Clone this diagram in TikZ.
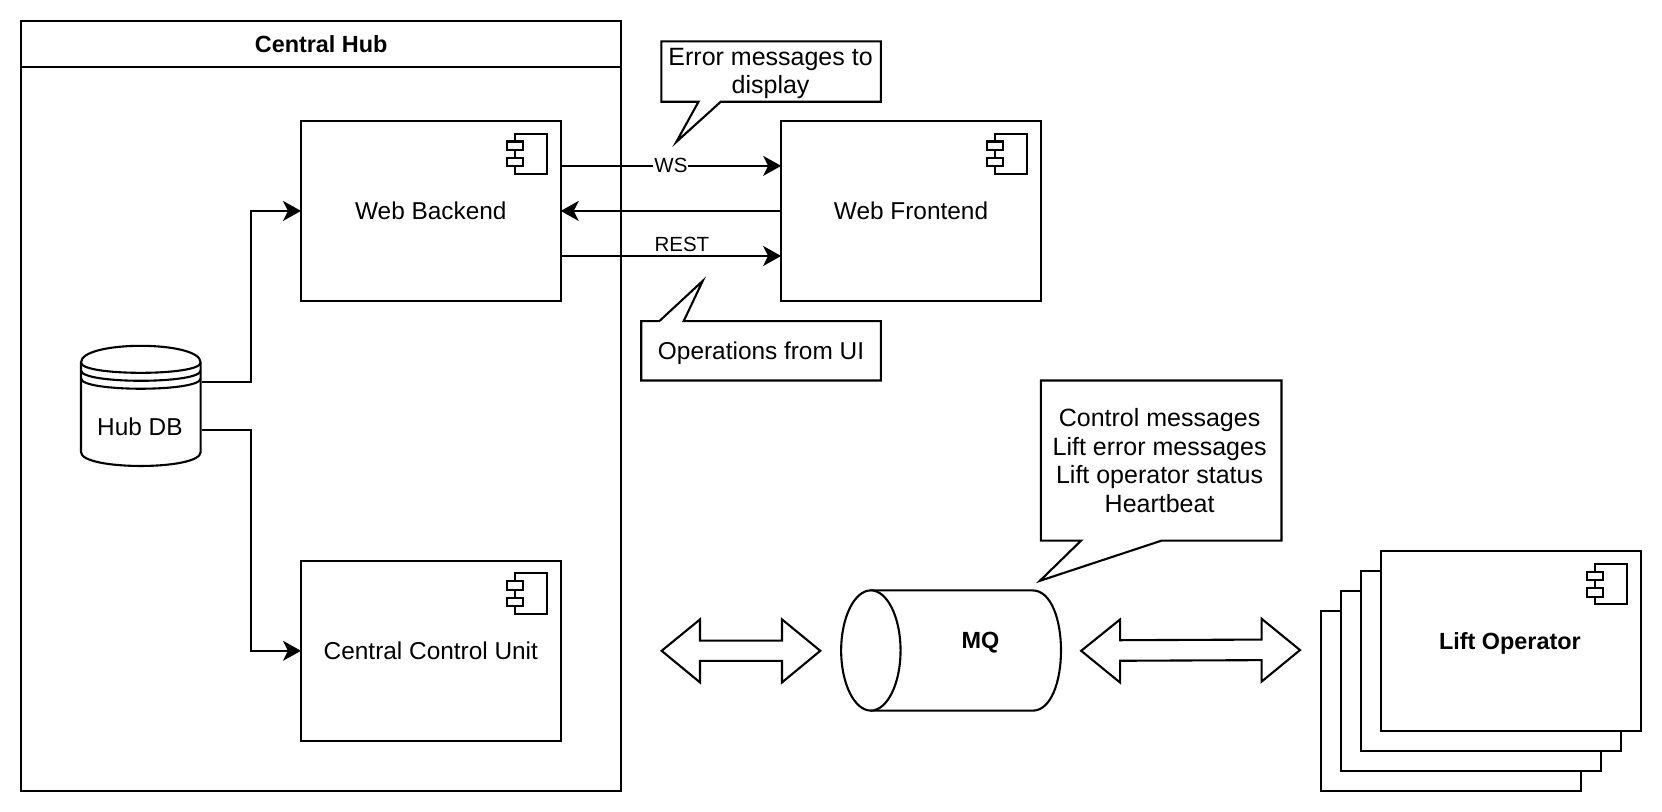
\documentclass[tikz,border=0pt]{standalone}
\usepackage{fontspec}
\setmainfont{Liberation Sans}
\usetikzlibrary{arrows.meta,calc}
\tikzset{
  every path/.append style={line width=2.1pt, line join=miter},
  txt/.style={font=\fontsize{24.4}{28.6}\selectfont, align=center, inner sep=0pt},
  widetxt/.style={font=\fontsize{25}{28.6}\selectfont, align=center, inner sep=0pt},
  boldtxt/.style={font=\fontsize{23.4}{28}\selectfont\bfseries, align=center, inner sep=0pt},
  lbl/.style={font=\fontsize{20.5}{24}\selectfont, fill=white},
  comp/.style={draw, fill=white, minimum width=259.7pt, minimum height=180.2pt, inner sep=0pt,
               font=\fontsize{24.4}{28.6}\selectfont},
  linkarrow/.style={-{Stealth[length=18pt,width=20pt,inset=5pt]}, shorten >=-1pt},
  shapeline/.style={draw, fill=white},
  compicon/.pic={
    \draw[fill=white] (-44,13) rectangle (-14,51);
    \draw[fill=white] (-52,20.5) rectangle (-37,28.5);
    \draw[fill=white] (-52,36) rectangle (-37,44);
  }
}
\begin{document}
\begin{tikzpicture}[x=1.06pt,y=-1.06pt]
\useasboundingbox (0,0) rectangle (1568,766);
\fill[white] (0,0) rectangle (1568,766);

% Central Hub
\node[draw, fill=white, minimum width=600pt, minimum height=769.6pt, inner sep=0pt] (hub) at (303,383) {};
\node[draw, boldtxt, minimum width=600pt, minimum height=45.6pt] (hubtitle) at (303,41.5) {\raisebox{-1pt}{Central Hub}};

% Components
\node[comp] (backend) at (406.5,199) {Web Backend};
\pic at (backend.north east) {compicon};
\node[comp] (frontend) at (859.5,199) {Web Frontend};
\pic at (frontend.north east) {compicon};
\node[comp] (control) at (406.5,614) {Central Control Unit};
\pic at (control.north east) {compicon};

% Hub DB
\node[txt, minimum width=119.7pt, minimum height=119.7pt, text depth=0pt] (db) at (132.8,382.5) {};
\draw[shapeline] (76.4,342) .. controls (76.4,321) and (189.3,321) .. (189.3,342)
  -- (189.3,426.5) .. controls (189.3,444) and (76.4,444) .. (76.4,426.5) -- cycle;
\draw (76.4,342) .. controls (76.4,355) and (189.3,355) .. (189.3,342);
\draw (76.4,349.5) .. controls (76.4,362.5) and (189.3,362.5) .. (189.3,349.5);
\draw (76.4,357) .. controls (76.4,370) and (189.3,370) .. (189.3,357);
\node[txt] (dblabel) at (132,402.5) {Hub DB};

% Connectors
\coordinate (dbout1) at ($(db.east)+(0,-22.5)$);
\coordinate (dbout2) at ($(db.east)+(0,23)$);
\coordinate (busx) at (237,0);
\draw[linkarrow] (dbout1) -- (dbout1 -| busx) -- (backend.west -| busx) -- (backend.west);
\draw[linkarrow] (dbout2) -- (dbout2 -| busx) -- (control.west -| busx) -- (control.west);

\coordinate (wsout) at ($(backend.east)+(0,-42.5)$);
\coordinate (restout) at ($(backend.east)+(0,42.5)$);
\draw[linkarrow] (wsout) -- node[lbl, inner xsep=1pt, inner ysep=0pt] (wslabel) {WS} (wsout -| frontend.west);
\draw[linkarrow] (frontend.west) -- (backend.east);
\draw[linkarrow] (restout) -- node[lbl, pos=.55, anchor=south, inner xsep=1pt, inner ysep=3.5pt, text depth=0pt] (restlabel) {REST} (restout -| frontend.west);

% Callouts
\draw[shapeline] (624,39) -- (831,39) -- (831,96) -- (680,96) -- (638,134) -- (659,96) -- (624,96) -- cycle;
\node[widetxt] (callerr) at (727,69.5) {Error messages to\\display};
\draw[shapeline] (605,303) -- (622,303) -- (663,265) -- (645,303) -- (831,303) -- (831,359) -- (605,359) -- cycle;
\node[txt] (callops) at (718,333) {Operations from UI};
\draw[shapeline] (982,359) -- (1209,359) -- (1209,510) -- (1096,510) -- (981,548) -- (1020,510) -- (982,510) -- cycle;
\node[widetxt] (callmsg) at (1094,434.5) {Control messages\\Lift error messages\\Lift operator status\\Heartbeat};

% MQ
\node[minimum width=219.4pt, minimum height=120.2pt, inner sep=0pt] (mq) at (897.5,613.7) {};
\draw[shapeline] (822,557) -- (974,557) .. controls (1010,557) and (1010,670.5) .. (974,670.5) -- (822,670.5) -- cycle;
\draw[shapeline] (821.6,613.7) ellipse [x radius=29.7pt, y radius=60.1pt];
\node[boldtxt] (mqlabel) at (925,606.5) {MQ};

% Double arrows
\draw[shapeline] (624.2,614) -- (660.4,584.4) -- (660.4,604.4) -- (737.8,604.4) -- (737.8,584.4) -- (773.9,614)
  -- (737.8,643.8) -- (737.8,623.5) -- (660.4,623.5) -- (660.4,643.8) -- cycle;
\draw[shapeline] (1020,614) -- (1056.8,584.4) -- (1056.8,604) -- (1190.3,603.4) -- (1190.3,583.8) -- (1226.5,613.3)
  -- (1190.3,643) -- (1190.3,622.8) -- (1056.8,623.4) -- (1056.8,644) -- cycle;

% Lift operator stack
\node[comp] (lift4) at (1368.92,661.6) {};
\node[comp] (lift3) at (1387.78,642.74) {};
\node[comp] (lift2) at (1406.65,623.87) {};
\node[comp] (lift1) at (1425.52,605) {};
\node[boldtxt] (liftlabel) at (1424.5,607) {Lift Operator};
\pic at (lift1.north east) {compicon};
\end{tikzpicture}
\end{document}
